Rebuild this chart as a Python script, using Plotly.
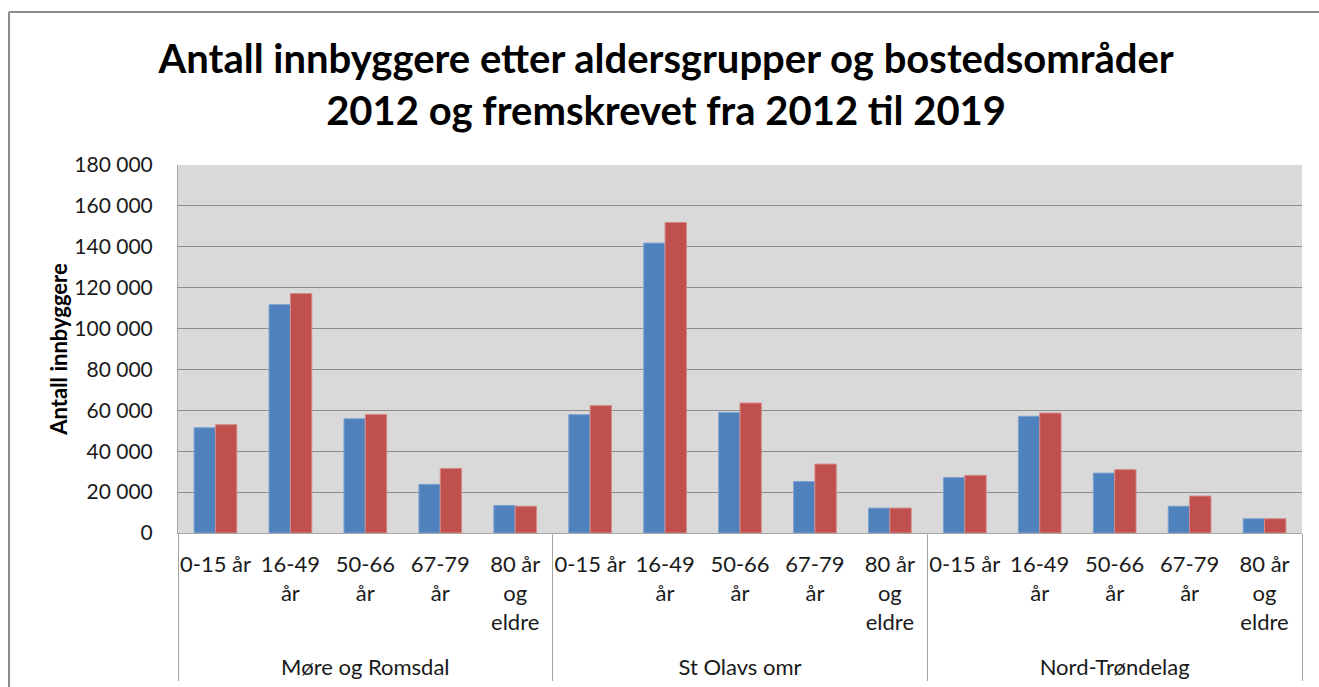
import plotly.graph_objects as go

groups = ["Møre og Romsdal", "St Olavs omr", "Nord-Trøndelag"]
ages = ["0-15 år", "16-49<br>år", "50-66<br>år", "67-79<br>år", "80 år<br>og<br>eldre<br> "]

v2012 = [51500, 111700, 55900, 23800, 13500,
         57900, 141800, 59000, 25200, 12200,
         27100, 57100, 29300, 13100, 7000]
v2019 = [53000, 117100, 58000, 31600, 13100,
         62300, 151900, 63600, 33700, 12200,
         28200, 58700, 31000, 18100, 7000]

xg = [g for g in groups for _ in ages]
xc = [a for _ in groups for a in ages]

fig = go.Figure()
fig.add_bar(x=[xg, xc], y=v2012, name="2012",
            marker=dict(color="#4F81BD", line=dict(color="#7FA3D0", width=1)))
fig.add_bar(x=[xg, xc], y=v2019, name="2019",
            marker=dict(color="#C0504D", line=dict(color="#D48A88", width=1)))

font = "Lato, Calibri, 'DejaVu Sans', sans-serif"
W, H = 1319, 687
L, R, T, B = 178, 17, 165, 154
pw, ph = W - L - R, H - T - B

fig.update_layout(
    width=W, height=H,
    margin=dict(l=L, r=R, t=T, b=B, autoexpand=False),
    paper_bgcolor="white", plot_bgcolor="#D9D9D9",
    barmode="group", bargap=0.43, bargroupgap=0,
    showlegend=False,
    separators=", ",
    font=dict(family=font, size=21, color="#1a1a1a"),
    title=dict(text="<b>Antall innbyggere etter aldersgrupper og bostedsområder<br>2012 og fremskrevet fra 2012 til 2019</b>",
               x=0.505, xanchor="center", yref="container", y=1 - 73 / H, yanchor="middle",
               font=dict(family=font, size=40, color="black")),
    xaxis=dict(type="multicategory", showline=True, linecolor="#A6A6A6", linewidth=1,
               showdividers=True, dividercolor="#A6A6A6", dividerwidth=1,
               tickangle=0, ticklabelstandoff=12,
               tickfont=dict(family=font, size=22, color="#1a1a1a"), showgrid=False),
    yaxis=dict(range=[0, 180000], dtick=20000, tickformat=",d",
               showgrid=True, gridcolor="#8C8C8C", gridwidth=1,
               showline=True, linecolor="#A6A6A6", linewidth=1,
               zeroline=False, ticks="", ticklabelstandoff=20,
               tickfont=dict(family=font, size=21, color="#1a1a1a"),
               title=dict(text="<b>Antall innbyggere</b>", standoff=0,
                          font=dict(family=font, size=22, color="black"))),
    shapes=[
        dict(type="line", xref="paper", yref="paper",
             x0=(9 - L) / pw, x1=(9 - L) / pw, y0=-B / ph, y1=(H - 12 - B) / ph,
             line=dict(color="#8C8C8C", width=2)),
        dict(type="line", xref="paper", yref="paper",
             x0=(9 - L) / pw, x1=(W - L) / pw, y0=(H - 12 - B) / ph, y1=(H - 12 - B) / ph,
             line=dict(color="#8C8C8C", width=2)),
    ],
)

fig.write_html("out.html", config={"displayModeBar": False},
               post_script="document.body.style.margin='0';")
